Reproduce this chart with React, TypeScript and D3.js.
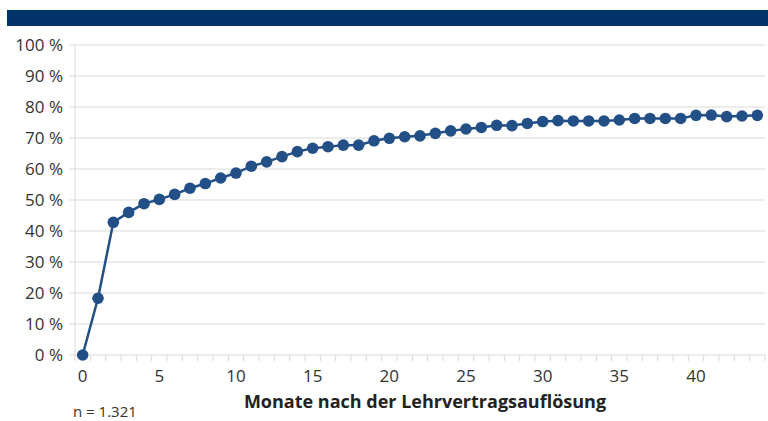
import * as d3 from "d3";
import { useRef, useEffect } from "react";

// Anteil (in %) nach Monaten seit der Lehrvertragsauflösung
const months = d3.range(0, 45);
const shares = [
  0, 18.3, 42.8, 46.0, 48.8, 50.2, 51.8, 53.8, 55.3, 57.1,
  58.7, 60.9, 62.3, 64.0, 65.6, 66.7, 67.2, 67.7, 67.7, 69.1,
  69.9, 70.4, 70.7, 71.5, 72.3, 72.9, 73.4, 74.1, 74.0, 74.7,
  75.3, 75.6, 75.5, 75.5, 75.5, 75.8, 76.3, 76.3, 76.3, 76.3,
  77.3, 77.4, 76.9, 77.1, 77.3
];
const yTicks = [0, 10, 20, 30, 40, 50, 60, 70, 80, 90, 100];
const xLabels = [0, 5, 10, 15, 20, 25, 30, 35, 40];
const xTitle = "Monate nach der Lehrvertragsauflösung";
const note = "n = 1.321";

export default function App() {
  const svgRef = useRef<SVGSVGElement>(null);
  const width = 768;
  const height = 421;
  const marginLeft = 75;
  const marginRight = 3;
  const marginTop = 45;
  const plotBottom = 355;

  useEffect(() => {
    const svg = d3.select(svgRef.current);
    svg.selectAll("*").remove();

    const font = "'Open Sans', 'Noto Sans', sans-serif";
    const blue = "#234f87";
    const grid = "#d9d9d9";

    const x = d3
      .scaleBand<number>()
      .domain(months)
      .range([marginLeft, width - marginRight]);
    const y = d3.scaleLinear().domain([0, 100]).range([plotBottom, marginTop]);
    const cx = (m: number) => (x(m) ?? 0) + x.bandwidth() / 2;

    // top bar
    svg
      .append("rect")
      .attr("x", 7)
      .attr("y", 10)
      .attr("width", width - 7)
      .attr("height", 16)
      .attr("fill", "#02346b");

    // gridlines + y ticks
    const yAxis = svg.append("g");
    yAxis
      .selectAll("line")
      .data(yTicks)
      .join("line")
      .attr("x1", marginLeft - 6)
      .attr("x2", width - marginRight)
      .attr("y1", (d) => y(d))
      .attr("y2", (d) => y(d))
      .attr("stroke", grid)
      .attr("stroke-width", 1);
    yAxis
      .selectAll("text")
      .data(yTicks)
      .join("text")
      .attr("x", marginLeft - 12)
      .attr("y", (d) => y(d))
      .attr("dy", "0.36em")
      .attr("text-anchor", "end")
      .attr("font-family", font)
      .attr("font-size", 17)
      .attr("fill", "#333")
      .text((d) => `${d} %`);

    // y axis line
    svg
      .append("line")
      .attr("x1", marginLeft)
      .attr("x2", marginLeft)
      .attr("y1", marginTop)
      .attr("y2", plotBottom)
      .attr("stroke", grid);

    // x axis ticks at category boundaries
    const xAxis = svg.append("g");
    const bounds = months.map((m) => x(m) ?? 0).concat([width - marginRight]);
    xAxis
      .selectAll("line")
      .data(bounds)
      .join("line")
      .attr("x1", (d) => d)
      .attr("x2", (d) => d)
      .attr("y1", plotBottom)
      .attr("y2", plotBottom + 6)
      .attr("stroke", grid);
    xAxis
      .selectAll("text")
      .data(xLabels)
      .join("text")
      .attr("x", (d) => cx(d))
      .attr("y", 382)
      .attr("text-anchor", "middle")
      .attr("font-family", font)
      .attr("font-size", 17)
      .attr("fill", "#333")
      .text((d) => d);

    // line + points
    const data = months.map((m, i) => [m, shares[i]] as [number, number]);
    const line = d3
      .line<[number, number]>()
      .x((d) => cx(d[0]))
      .y((d) => y(d[1]));
    svg
      .append("path")
      .attr("d", line(data))
      .attr("fill", "none")
      .attr("stroke", blue)
      .attr("stroke-width", 2.5);
    svg
      .append("g")
      .selectAll("circle")
      .data(data)
      .join("circle")
      .attr("cx", (d) => cx(d[0]))
      .attr("cy", (d) => y(d[1]))
      .attr("r", 5.8)
      .attr("fill", blue);

    // titles
    svg
      .append("text")
      .attr("x", 425)
      .attr("y", 408)
      .attr("text-anchor", "middle")
      .attr("font-family", font)
      .attr("font-size", 18)
      .attr("font-weight", "bold")
      .attr("fill", "#222")
      .text(xTitle);
    svg
      .append("text")
      .attr("x", 73)
      .attr("y", 417)
      .attr("font-family", font)
      .attr("font-size", 15)
      .attr("fill", "#333")
      .text(note);
  }, []);

  return (
    <svg
      ref={svgRef}
      width={width}
      height={height}
      style={{ position: "absolute", left: 0, top: 0, background: "#fff" }}
    />
  );
}
